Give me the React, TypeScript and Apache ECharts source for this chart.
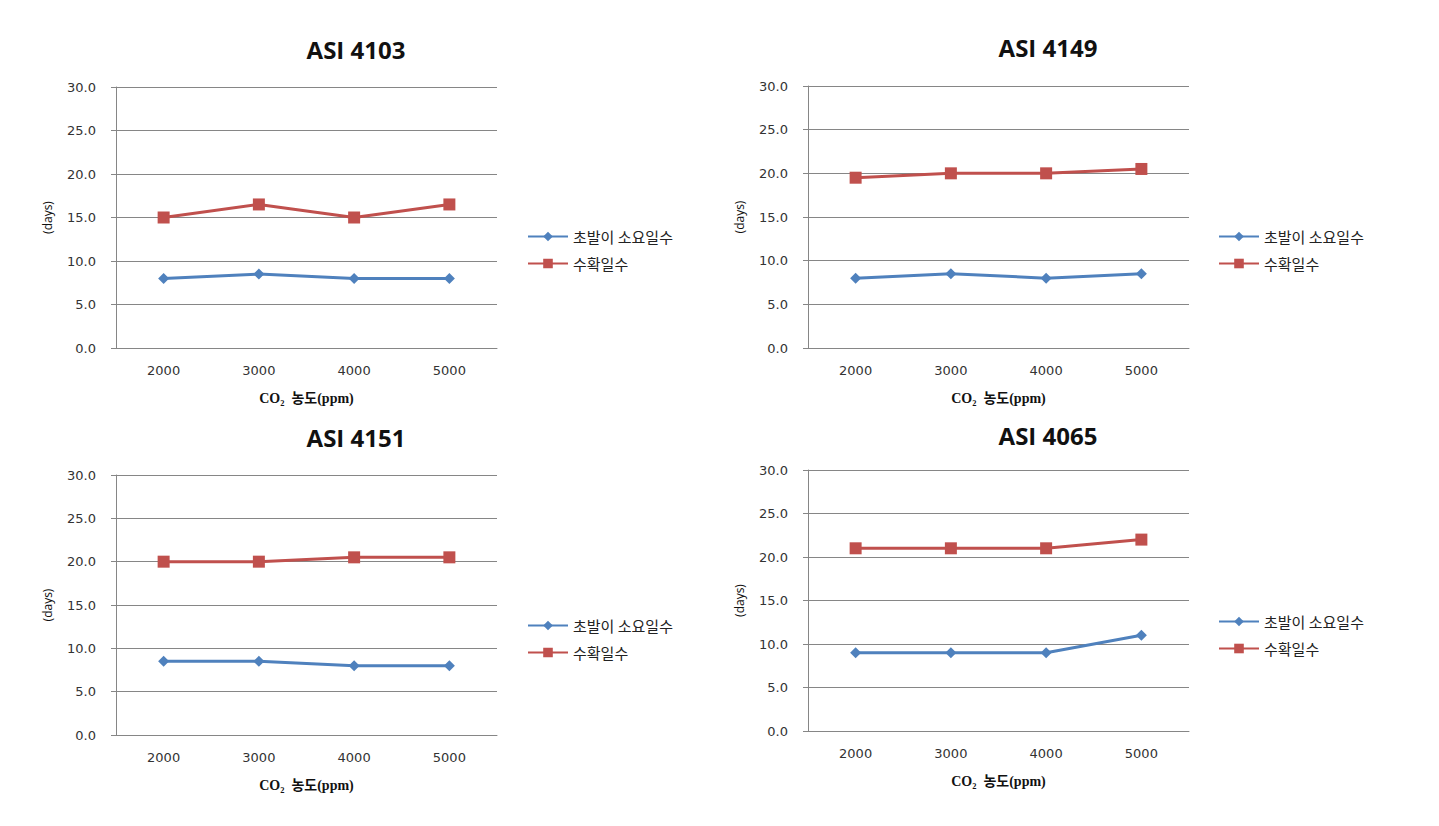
import React, { useEffect, useRef } from "react";
import * as echarts from "echarts";

const categories = ["2000", "3000", "4000", "5000"];
const seriesNames = ["초발이 소요일수", "수확일수"];
const titles = ["ASI 4103", "ASI 4149", "ASI 4151", "ASI 4065"];

const germ4103 = [8, 8.5, 8, 8];
const harv4103 = [15, 16.5, 15, 16.5];
const germ4149 = [8, 8.5, 8, 8.5];
const harv4149 = [19.5, 20, 20, 20.5];
const germ4151 = [8.5, 8.5, 8, 8];
const harv4151 = [20, 20, 20.5, 20.5];
const germ4065 = [9, 9, 9, 11];
const harv4065 = [21, 21, 21, 22];

const yTicks = [0, 5, 10, 15, 20, 25, 30];
const xAxisName = "CO₂  농도(ppm)";
const yAxisName = "(days)";

const panelData = [
  [germ4103, harv4103],
  [germ4149, harv4149],
  [germ4151, harv4151],
  [germ4065, harv4065],
];

const BLUE = "#4F81BD";
const RED = "#C0504D";

const layouts = [
  { left: 116, top: 87, width: 381, height: 261, titleX: 351, titleY: 32, legendX: 522, legendY: 224 },
  { left: 808, top: 86, width: 381, height: 262, titleX: 1043, titleY: 30, legendX: 1213, legendY: 224 },
  { left: 116, top: 475, width: 381, height: 260, titleX: 351, titleY: 420, legendX: 522, legendY: 613 },
  { left: 808, top: 470, width: 381, height: 261, titleX: 1043, titleY: 418, legendX: 1213, legendY: 609 },
];

export default function App() {
  const ref = useRef<HTMLDivElement>(null);
  useEffect(() => {
    if (!ref.current) return;
    const chart = echarts.init(ref.current, null, { renderer: "svg" });
    const grid: any[] = [];
    const xAxis: any[] = [];
    const yAxis: any[] = [];
    const series: any[] = [];
    const title: any[] = [];
    const legend: any[] = [];
    layouts.forEach((l, i) => {
      grid.push({ left: l.left, top: l.top, width: l.width, height: l.height, containLabel: false });
      title.push({
        text: titles[i],
        left: l.titleX,
        top: l.titleY,
        textAlign: "center",
        textStyle: { fontFamily: "Open Sans", fontWeight: "bold", fontSize: 24, color: "#111" },
      });
      legend.push({
        left: l.legendX,
        top: l.legendY,
        orient: "vertical",
        itemWidth: 40,
        itemHeight: 12,
        itemGap: 12,
        textStyle: { fontFamily: "Noto Sans CJK KR", fontSize: 15, color: "#222" },
        data: seriesNames,
      });
      xAxis.push({
        type: "category",
        gridIndex: i,
        data: categories,
        boundaryGap: true,
        axisLine: { lineStyle: { color: "#868686", width: 1 } },
        axisTick: { show: false },
        axisLabel: { fontFamily: "DejaVu Sans", fontSize: 13, color: "#333", margin: 16 },
        name: xAxisName,
        nameLocation: "middle",
        nameGap: 43,
        nameTextStyle: { fontFamily: "Liberation Serif, Noto Sans CJK KR", fontWeight: "bold", fontSize: 14, color: "#111" },
      });
      yAxis.push({
        type: "value",
        gridIndex: i,
        min: 0,
        max: 30,
        interval: 5,
        axisLine: { show: true, lineStyle: { color: "#868686", width: 1 } },
        axisTick: { show: true, length: 5, lineStyle: { color: "#868686" } },
        splitLine: { lineStyle: { color: "#868686", width: 1 } },
        axisLabel: {
          fontFamily: "DejaVu Sans",
          fontSize: 13,
          color: "#333",
          margin: 20,
          formatter: (v: number) => (yTicks.includes(v) ? v.toFixed(1) : ""),
        },
        name: yAxisName,
        nameLocation: "middle",
        nameRotate: 90,
        nameGap: 63,
        nameTextStyle: { fontFamily: "Open Sans", fontSize: 12, color: "#111" },
      });
      const [g, h] = panelData[i];
      series.push({
        name: seriesNames[0],
        type: "line",
        xAxisIndex: i,
        yAxisIndex: i,
        data: g,
        symbol: "diamond",
        symbolSize: 11,
        lineStyle: { color: BLUE, width: 3 },
        itemStyle: { color: BLUE },
      });
      series.push({
        name: seriesNames[1],
        type: "line",
        xAxisIndex: i,
        yAxisIndex: i,
        data: h,
        symbol: "rect",
        symbolSize: 12,
        lineStyle: { color: RED, width: 3 },
        itemStyle: { color: RED },
      });
    });
    chart.setOption({
      animation: false,
      backgroundColor: "#fff",
      title,
      legend,
      grid,
      xAxis,
      yAxis,
      series,
    });
    return () => chart.dispose();
  }, []);
  return (
    <div
      ref={ref}
      style={{ position: "absolute", left: 0, top: 0, width: 1439, height: 826 }}
    />
  );
}
